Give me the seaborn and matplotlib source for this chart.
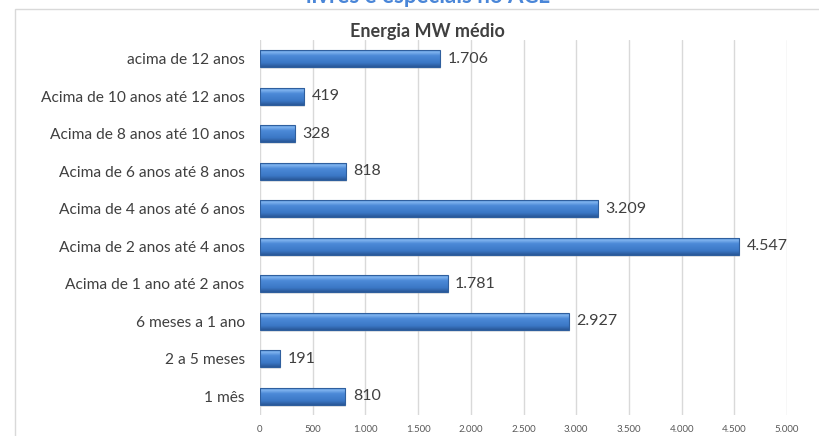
import numpy as np
import pandas as pd
import matplotlib
matplotlib.use("Agg")
import matplotlib.pyplot as plt
from matplotlib.colors import LinearSegmentedColormap
from matplotlib.patches import Rectangle
import seaborn as sns

categories = [
    "acima de 12 anos",
    "Acima de 10 anos até 12 anos",
    "Acima de 8 anos até 10 anos",
    "Acima de 6 anos até 8 anos",
    "Acima de 4 anos até 6 anos",
    "Acima de 2 anos até 4 anos",
    "Acima de 1 ano até 2 anos",
    "6 meses a 1 ano",
    "2 a 5 meses",
    "1 mês",
]
energia_mw_medio = [1706, 419, 328, 818, 3209, 4547, 1781, 2927, 191, 810]
x_ticks = [0, 500, 1000, 1500, 2000, 2500, 3000, 3500, 4000, 4500, 5000]

df = pd.DataFrame({"categoria": categories, "energia": energia_mw_medio})


def br_format(v):
    return f"{v:,}".replace(",", ".")


sns.set_theme(style="white")
plt.rcParams["font.family"] = ["Lato", "DejaVu Sans"]

fig = plt.figure(figsize=(8.2, 4.36), dpi=100)
ax = fig.add_axes([260 / 820, 1 - 415 / 436, 527 / 820, 375 / 436])

sns.barplot(data=df, y="categoria", x="energia", orient="h", width=0.45,
            color="#4a86d0", saturation=1, ax=ax, zorder=3)

ax.set_xlim(0, 5000)
ax.set_ylim(9.5, -0.5)

# glossy vertical gradient inside each bar
grad_cmap = LinearSegmentedColormap.from_list(
    "bar_gloss",
    [(0.0, "#5896de"), (0.12, "#7fb3ee"), (0.32, "#4c8ad8"),
     (0.75, "#3b78c6"), (1.0, "#295797")],
)
grad = np.linspace(0, 1, 64).reshape(-1, 1)
for p in list(ax.patches):
    x0, y0 = p.get_x(), p.get_y()
    w, h = p.get_width(), p.get_height()
    # soft shadow under the bar
    ax.add_patch(Rectangle((x0 + 10, y0 + 0.06), w, h, facecolor="#b8b8b8",
                           edgecolor="none", alpha=0.35, zorder=2))
    ax.imshow(grad, cmap=grad_cmap, extent=[x0, x0 + w, y0 + h, y0],
              origin="upper", aspect="auto", zorder=3.5, interpolation="bilinear")
    p.set_facecolor("none")
    p.set_edgecolor("#2f5f9e")
    p.set_linewidth(0.8)
    p.set_zorder(4)

ax.set_xlim(0, 5000)
ax.set_ylim(9.5, -0.5)

# value labels
for i, v in enumerate(energia_mw_medio):
    ax.text(v + 70, i, br_format(v), va="center", ha="left",
            fontsize=11.5, color="#404040", zorder=5, clip_on=False)

ax.set_xticks(x_ticks)
ax.set_xticklabels([br_format(t) for t in x_ticks])
ax.tick_params(axis="x", labelsize=7, colors="#595959", length=0, pad=7)
ax.tick_params(axis="y", labelsize=11.2, colors="#404040", length=0, pad=11)
ax.grid(axis="x", color="#d9d9d9", linewidth=1, zorder=0)
ax.grid(axis="y", visible=False)
for s in ax.spines.values():
    s.set_visible(False)
ax.set_xlabel("")
ax.set_ylabel("")

# chart area border
fig.add_artist(Rectangle((15 / 820, -0.05), 1.0, 1 - 9 / 436 + 0.05,
                         transform=fig.transFigure, facecolor="none",
                         edgecolor="#d9d9d9", linewidth=1, clip_on=False))

fig.text(427 / 820, 1 - 31 / 436, "Energia MW médio", ha="center", va="center",
         fontsize=13, fontweight="bold", color="#404040")
fig.text(428 / 820, 1 - 3 / 436, "livres e especiais no ACL", ha="center",
         va="baseline", fontsize=16, fontweight="bold", color="#4a86d8")

fig.savefig("out.png", dpi=100)
